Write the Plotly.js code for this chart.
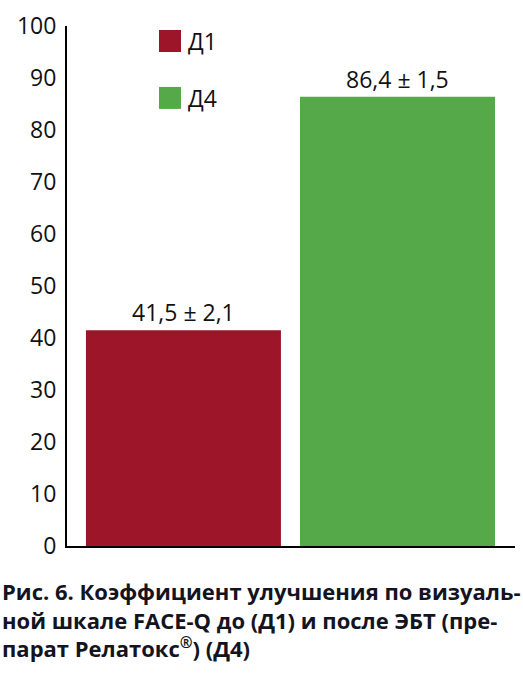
<!DOCTYPE html>
<html>
<head>
<meta charset="utf-8">
<script src="https://cdn.plot.ly/plotly-3.0.1.min.js"></script>
<style>html,body{margin:0;padding:0;background:#fff;}#chart{width:523px;height:678px;}</style>
</head>
<body>
<div id="chart"></div>
<script>
var categories = ["Д1", "Д4"];
var values = [41.5, 86.4];
var errors = [2.1, 1.5];
var valueLabels = ["41,5 ± 2,1", "86,4 ± 1,5"];
var colors = ["#9c1529", "#56a949"];
var yTicks = [0, 10, 20, 30, 40, 50, 60, 70, 80, 90, 100];
var captionLines = [
  "Рис. 6. Коэффициент улучшения по визуаль-",
  "ной шкале FACE-Q до (Д1) и после ЭБТ (пре-",
  "парат Релатокс<sup>®</sup>) (Д4)"
];

var W = 523, H = 678;
var L = 67, R = 515, T = 26, B = 546.5;
function px(x) { return (x - L) / (R - L); }
function py(y) { return (B - y) / (B - T); }

var font = "'Open Sans', 'DejaVu Sans', sans-serif";

var trace = {
  type: "bar",
  x: categories,
  y: values,
  marker: { color: colors, line: { width: 0 } },
  hoverinfo: "none",
  showlegend: false
};

var annotations = [];
for (var i = 0; i < categories.length; i++) {
  annotations.push({
    x: categories[i], y: values[i], xref: "x", yref: "y",
    text: valueLabels[i], showarrow: false,
    xanchor: "center", yanchor: "bottom", yshift: 0,
    font: { family: font, size: 23, color: "#111" }
  });
}

var legendY = [41, 98];
var shapes = [];
for (var j = 0; j < categories.length; j++) {
  shapes.push({
    type: "rect", xref: "paper", yref: "paper",
    x0: px(159), x1: px(181), y0: py(legendY[j] + 11), y1: py(legendY[j] - 11),
    fillcolor: colors[j], line: { width: 0 }
  });
  annotations.push({
    x: px(186), y: py(legendY[j]), xref: "paper", yref: "paper",
    text: categories[j], showarrow: false, xanchor: "left", yanchor: "middle",
    font: { family: font, size: 23, color: "#111" }
  });
}

annotations.push({
  x: px(0), y: py(575), xref: "paper", yref: "paper",
  text: "<b>" + captionLines.join("<br>") + "</b>", showarrow: false,
  xanchor: "left", yanchor: "top", align: "left",
  font: { family: font, size: 22, color: "#14141f" }
});

var layout = {
  width: W, height: H,
  margin: { l: L, r: W - R, t: T, b: H - B, pad: 0 },
  paper_bgcolor: "#fff", plot_bgcolor: "#fff",
  bargap: 0.089,
  xaxis: {
    type: "category", range: [-0.544, 1.549],
    showticklabels: false, ticks: "", showgrid: false, zeroline: false,
    showline: true, linecolor: "#000", linewidth: 2, fixedrange: true
  },
  yaxis: {
    range: [0, 100], tickvals: yTicks, ticktext: yTicks.map(String),
    ticks: "", showgrid: false, zeroline: false,
    showline: true, linecolor: "#000", linewidth: 2,
    ticklabelstandoff: 4,
    tickfont: { family: font, size: 23, color: "#111" }, fixedrange: true
  },
  annotations: annotations,
  shapes: shapes
};

Plotly.newPlot("chart", [trace], layout, { displayModeBar: false, staticPlot: true });
</script>
</body>
</html>
